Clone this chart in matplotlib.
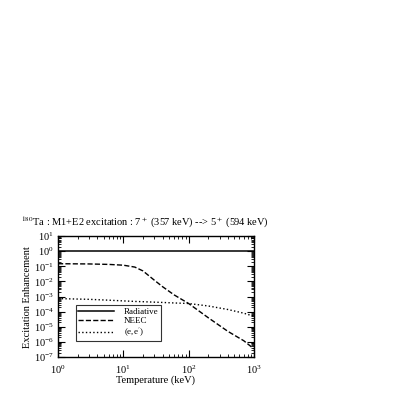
import numpy as np
import matplotlib.pyplot as plt
from matplotlib.ticker import LogLocator, NullFormatter

plt.rcParams['font.family'] = ['Liberation Serif', 'DejaVu Serif']
plt.rcParams['mathtext.fontset'] = 'stix'

# temperature (keV)
temp = [1, 3, 6, 10, 15, 20, 30, 40, 60, 100, 200, 400, 700, 1000]
radiative = [1.0] * len(temp)
neec = [0.15, 0.145, 0.135, 0.12, 0.09, 0.05, 0.012, 4.5e-3, 1.3e-3, 3.5e-4, 4.0e-5, 5.0e-6, 1.2e-6, 3.5e-7]
ee = [7.4e-4, 6.6e-4, 5.8e-4, 5.2e-4, 4.8e-4, 4.6e-4, 4.3e-4, 4.1e-4, 3.8e-4, 3.5e-4, 2.4e-4, 1.4e-4, 8.0e-5, 5.0e-5]

fig = plt.figure(figsize=(4.03, 4.03), dpi=100)
ax = fig.add_axes([0.144, 0.114, 0.486, 0.300])

ax.plot(temp, radiative, '-', color='black', lw=1.1, label='Radiative')
ax.plot(temp, neec, '--', color='black', lw=1.0, label='NEEC')
ax.plot(temp, ee, ':', color='black', lw=1.0, label='(e,e$^{\\prime}$)')

ax.set_xscale('log')
ax.set_yscale('log')
ax.set_xlim(1, 1000)
ax.set_ylim(1e-7, 10)
ax.yaxis.set_major_locator(LogLocator(base=10, numticks=20))
ax.yaxis.set_minor_locator(LogLocator(base=10, subs=np.arange(2, 10), numticks=20))
ax.xaxis.set_minor_locator(LogLocator(base=10, subs=np.arange(2, 10), numticks=20))
ax.yaxis.set_minor_formatter(NullFormatter())
ax.xaxis.set_minor_formatter(NullFormatter())

ax.tick_params(which='both', direction='in', top=True, right=True, labelsize=7.5, color='black')
ax.tick_params(which='major', length=5, width=0.8)
ax.tick_params(which='minor', length=2.5, width=0.6)
ax.tick_params(axis='x', which='major', pad=4.5)
ax.tick_params(axis='y', which='major', pad=3)
for s in ax.spines.values():
    s.set_linewidth(1.0)

ax.set_xlabel('Temperature (keV)', fontsize=7.5, labelpad=0)
ax.set_ylabel('Excitation Enhancement', fontsize=7.5, labelpad=1)

leg = ax.legend(loc='lower left', bbox_to_anchor=(0.09, 0.13), fontsize=6.5, frameon=True,
                fancybox=False, edgecolor='black', handlelength=4.0, borderpad=0.3,
                labelspacing=0.05, handletextpad=1.0, borderaxespad=0)
leg.get_frame().set_linewidth(0.8)

fig.text(21 / 403, 1 - 222 / 403,
         '$^{180}$Ta : M1+E2 excitation : 7$^+$ (357 keV) --> 5$^+$ (594 keV)',
         fontsize=7.5, ha='left', va='center')

fig.savefig('out.png', dpi=100)
